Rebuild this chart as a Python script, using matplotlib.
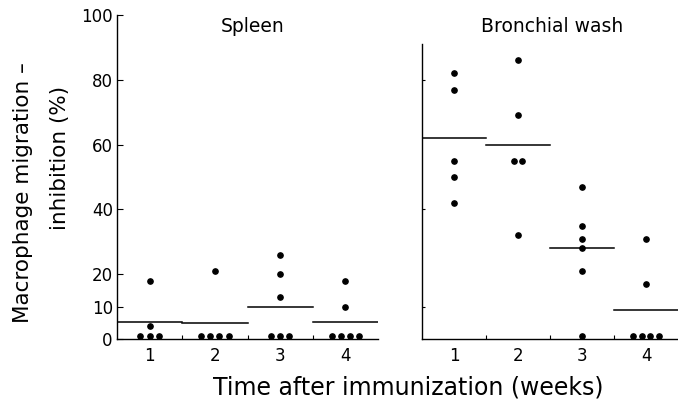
#!/usr/bin/env python3
# Macrophage migration inhibition, spleen vs bronchial wash
import numpy as np
import matplotlib
matplotlib.use("Agg")
import matplotlib.pyplot as plt

weeks = [1, 2, 3, 4]
week_labels = ["1", "2", "3", "4"]

# individual animals (zero responders drawn just above the axis)
spleen = [
    [18, 4, 1, 1, 1],
    [21, 1, 1, 1, 1],
    [26, 20, 13, 1, 1, 1],
    [18, 10, 1, 1, 1, 1],
]
spleen_means = [5.3, 5.0, 10.0, 5.3]

bronch = [
    [82, 77, 55, 50, 42],
    [86, 69, 55, 55, 32],
    [47, 35, 31, 28, 21, 1],
    [31, 17, 1, 1, 1, 1],
]
bronch_means = [62, 60, 28, 9]

plt.rcParams['font.family'] = ['DejaVu Sans']

fig = plt.figure(figsize=(6.78, 4.01), dpi=100)
ax1 = fig.add_axes([117/678, 1-339/401, (378-117)/678, 324/401])
ax2 = fig.add_axes([422/678, 1-339/401, (678-422)/678, 324/401])


def spread(vals, x0, step=0.14):
    xs, ys = [], []
    for v in sorted(set(vals), reverse=True):
        n = vals.count(v)
        offs = (np.arange(n) - (n-1)/2) * step
        xs += list(x0 + offs)
        ys += [v]*n
    return xs, ys


def panel(ax, groups, means, title, tx):
    for w, g, m in zip(weeks, groups, means):
        xs, ys = spread(g, w)
        ax.plot(xs, ys, 'o', color='black', ms=3.8, zorder=3)
        ax.plot([w-0.5, w+0.5], [m, m], color='black', lw=1.1)
    ax.set_xlim(0.5, 4.5)
    ax.set_ylim(0, 100)
    for s in ['top', 'right']:
        ax.spines[s].set_visible(False)
    ax.spines['left'].set_linewidth(1.0)
    ax.spines['bottom'].set_linewidth(1.0)
    ax.set_xticks([1.5, 2.5, 3.5])
    ax.set_xticklabels([])
    ax.tick_params(axis='x', which='major', direction='in', length=3)
    ax.set_xticks(weeks, minor=True)
    ax.set_xticklabels(week_labels, minor=True, fontsize=12)
    ax.tick_params(axis='x', which='minor', length=0, pad=6)
    ax.set_facecolor('none')
    fig.text(tx, 1-26/401, title, ha='center', va='center', fontsize=13.5)


panel(ax1, spleen, spleen_means, "Spleen", 253/678)
panel(ax2, bronch, bronch_means, "Bronchial wash", 552/678)

ax1.set_yticks([0, 10, 20, 40, 60, 80, 100])
ax1.set_yticklabels(["0", "10", "20", "40", "60", "80", "100"], fontsize=12)
ax1.tick_params(axis='y', direction='in', length=4, pad=3)

ax2.set_yticks([10, 40, 80])
ax2.set_yticklabels([])
ax2.tick_params(axis='y', direction='in', length=2)
ax2.spines['left'].set_bounds(0, 91)

fig.text(23/678, 1-193/401, "Macrophage migration –", rotation=90,
         ha='center', va='center', fontsize=15.5)
fig.text(60/678, 1-158/401, "inhibition (%)", rotation=90,
         ha='center', va='center', fontsize=15.5)
fig.text(408/678, 1-388/401, "Time after immunization (weeks)",
         ha='center', va='center', fontsize=17)

plt.savefig("out.png", dpi=100)
